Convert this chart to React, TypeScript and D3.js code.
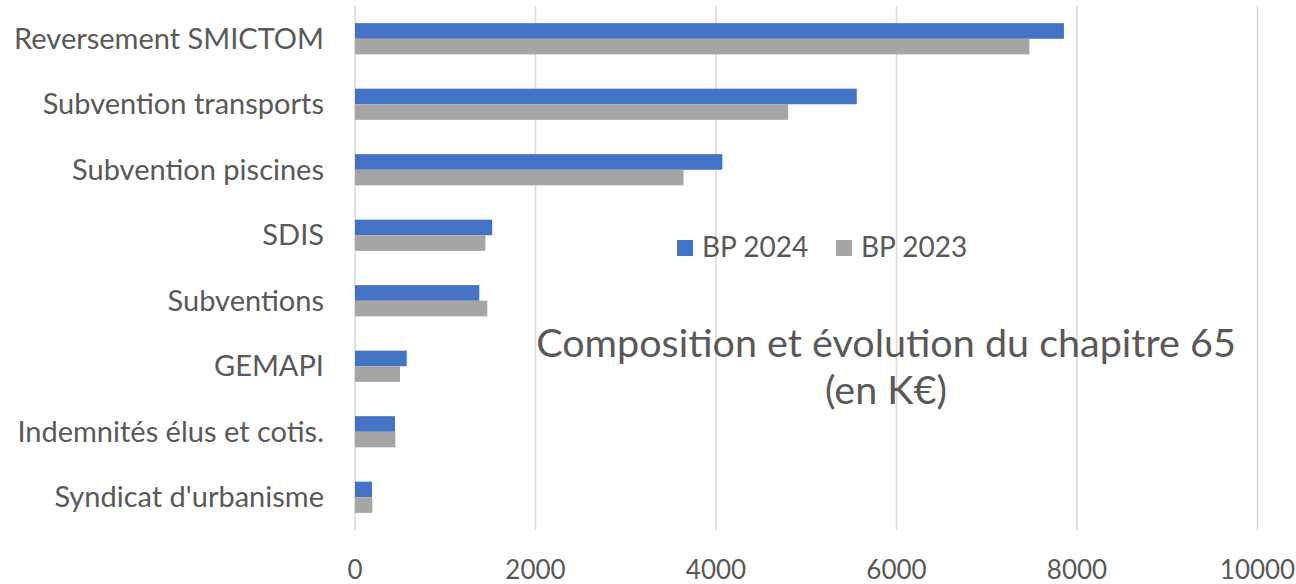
import React from "react";
import * as d3 from "d3";

const categories = [
  "Reversement SMICTOM",
  "Subvention transports",
  "Subvention piscines",
  "SDIS",
  "Subventions",
  "GEMAPI",
  "Indemnités élus et cotis.",
  "Syndicat d'urbanisme",
];
const bp2024 = [7855, 5560, 4070, 1520, 1377, 573, 443, 188];
const bp2023 = [7472, 4800, 3640, 1445, 1466, 499, 447, 192];
const seriesNames = ["BP 2024", "BP 2023"];
const seriesColors = ["#4472C4", "#A5A5A5"];
const xTicks = [0, 2000, 4000, 6000, 8000, 10000];
const titleLines = ["Composition et évolution du chapitre 65", "(en K€)"];

const W = 1296;
const H = 584;
const FONT = "Lato, 'Open Sans', sans-serif";
const TEXT = "#595959";

export default function App() {
  const plot = { left: 355, right: 1257.5, top: 6, bottom: 530 };
  const x = d3.scaleLinear().domain([0, 10000]).range([plot.left, plot.right]);
  const y = d3
    .scaleBand<string>()
    .domain(categories)
    .range([plot.top, plot.bottom])
    .paddingInner(0)
    .paddingOuter(0);
  const innerH = 15.6;
  const sub = d3
    .scaleBand<string>()
    .domain(seriesNames)
    .range([y.bandwidth() / 2 - innerH, y.bandwidth() / 2 + innerH]);

  const seriesValues = [bp2024, bp2023];

  return (
    <svg
      width={W}
      height={H}
      style={{ position: "absolute", left: 0, top: 0, background: "#fff" }}
      fontFamily={FONT}
    >
      {/* vertical gridlines */}
      {xTicks.map((t) => (
        <line
          key={"g" + t}
          x1={x(t)}
          x2={x(t)}
          y1={plot.top}
          y2={plot.bottom}
          stroke="#D9D9D9"
          strokeWidth={1.5}
        />
      ))}

      {/* bars */}
      {categories.map((c, i) => (
        <g key={c} transform={`translate(0,${y(c)})`}>
          {seriesNames.map((s, k) => (
            <rect
              key={s}
              x={x(0)}
              y={sub(s)}
              width={x(seriesValues[k][i]) - x(0)}
              height={sub.bandwidth()}
              fill={seriesColors[k]}
            />
          ))}
        </g>
      ))}

      {/* category labels */}
      {categories.map((c) => (
        <text
          key={"l" + c}
          x={324}
          y={(y(c) ?? 0) + y.bandwidth() / 2 + 10}
          textAnchor="end"
          fontSize={29}
          fill={TEXT}
        >
          {c}
        </text>
      ))}

      {/* x tick labels */}
      {xTicks.map((t) => (
        <text
          key={"t" + t}
          x={x(t)}
          y={579}
          textAnchor="middle"
          fontSize={26}
          fill={TEXT}
        >
          {t}
        </text>
      ))}

      {/* legend */}
      {seriesNames.map((s, k) => {
        const lx = 677 + k * 159;
        return (
          <g key={"lg" + s}>
            <rect x={lx} y={240} width={16} height={16} fill={seriesColors[k]} />
            <text x={lx + 25} y={257} fontSize={28} fill={TEXT}>
              {s}
            </text>
          </g>
        );
      })}

      {/* chart title */}
      {titleLines.map((line, i) => (
        <text
          key={"ti" + i}
          x={886}
          y={357 + i * 47}
          textAnchor="middle"
          fontSize={39.5}
          fill={TEXT}
        >
          {line}
        </text>
      ))}
    </svg>
  );
}
